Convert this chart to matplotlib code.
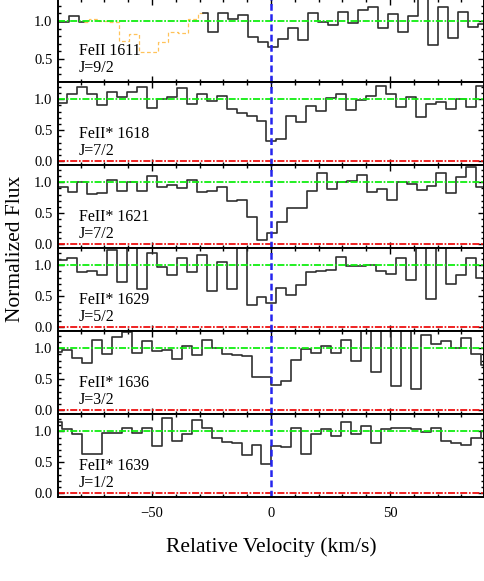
import numpy as np
import matplotlib
matplotlib.use("Agg")
import matplotlib.pyplot as plt
from matplotlib.ticker import MultipleLocator, FormatStrFormatter

plt.rcParams['font.family'] = ['Liberation Serif', 'DejaVu Serif']

# line labels
names = ["FeII 1611", "FeII* 1618", "FeII* 1621", "FeII* 1629", "FeII* 1636", "FeII* 1639"]
jlev = ["J=9/2", "J=7/2", "J=7/2", "J=5/2", "J=3/2", "J=1/2"]

# velocity of first pixel centre per transition (km/s), pixel width
v_start = [-87.1, -87.8, -87.6, -87.8, -89.9, -89.9]
dv = 4.19

flux_1611 = [0.98, 1.06, 0.99, 1.02, 1.00, 0.99, 0.74, 0.83, 0.59, 0.59, 0.72, 0.85,
             0.84, 1.02, 1.11, 0.85, 1.11, 1.03, 1.08, 0.79, 0.72, 0.66, 0.76, 0.91,
             0.75, 1.10, 0.98, 0.95, 1.12, 0.97, 1.14, 1.18, 0.91, 1.09, 0.85, 1.07,
             1.35, 0.68, 1.18, 0.77, 1.12, 0.92, 0.96]
flux_1618 = [0.94, 1.09, 1.20, 1.09, 0.90, 1.11, 1.04, 1.11, 1.19, 0.86, 1.01, 1.04,
             1.18, 0.92, 1.09, 0.97, 1.05, 0.85, 0.77, 0.73, 0.65, 0.33, 0.36, 0.73,
             0.64, 0.89, 0.81, 1.02, 1.09, 0.82, 0.98, 1.05, 1.22, 1.09, 0.87, 1.03,
             0.71, 0.92, 0.95, 0.84, 1.01, 0.87, 1.21]
flux_1621 = [0.92, 0.85, 1.00, 0.81, 0.83, 1.03, 0.86, 1.00, 0.86, 1.10, 0.93, 0.96,
             0.91, 1.03, 0.84, 0.86, 0.93, 0.69, 0.71, 0.44, 0.07, 0.18, 0.36, 0.58,
             0.58, 0.86, 1.15, 0.89, 1.00, 1.02, 1.11, 0.84, 0.89, 0.71, 1.00, 0.97,
             0.87, 0.94, 1.15, 0.83, 1.09, 1.24, 0.93]
flux_1629 = [1.09, 1.12, 0.89, 0.90, 0.85, 1.24, 0.73, 1.35, 0.62, 1.19, 0.98, 0.85,
             1.11, 0.89, 1.17, 0.59, 1.05, 0.61, 1.35, 0.36, 0.49, 0.39, 0.64, 0.52,
             0.68, 0.89, 0.90, 0.92, 1.14, 0.99, 0.99, 1.01, 0.90, 0.86, 1.12, 0.76,
             1.30, 0.46, 1.35, 0.70, 0.85, 1.11, 0.79]
flux_1636 = [0.94, 0.97, 0.85, 0.76, 1.13, 0.90, 1.18, 1.26, 0.92, 1.11, 0.96, 0.97,
             0.82, 1.03, 0.89, 1.13, 1.00, 0.91, 0.89, 0.88, 0.54, 0.54, 0.41, 0.47,
             0.81, 0.99, 0.93, 1.03, 0.92, 1.13, 0.79, 1.35, 0.62, 1.35, 0.39, 1.35,
             0.34, 1.21, 1.07, 1.12, 1.00, 1.16, 0.91, 0.73]
flux_1639 = [1.15, 1.04, 0.96, 0.63, 0.63, 0.97, 0.97, 1.06, 0.97, 1.06, 0.77, 1.22,
             0.85, 0.95, 1.18, 1.06, 0.89, 0.83, 0.81, 0.61, 0.78, 0.47, 0.76, 0.75,
             1.06, 0.63, 0.96, 1.04, 0.92, 1.15, 0.95, 1.08, 0.81, 1.03, 1.05, 1.06,
             1.04, 0.99, 1.05, 0.85, 0.81, 0.78, 0.90, 1.00]
fluxes = [flux_1611, flux_1618, flux_1621, flux_1629, flux_1636, flux_1639]

# pixels of FeII 1611 that are blended (drawn dashed orange)
blend = (2, 14)

ylims = [(0.2, 1.29)] + [(-0.06, 1.28)] * 5

fig = plt.figure(figsize=(4.85, 5.81), dpi=100)
gs = fig.add_gridspec(6, 1, left=0.1196, right=0.998, top=1.002, bottom=0.1446, hspace=0)
axes = [fig.add_subplot(gs[i]) for i in range(6)]

line_col = '#303030'
for i, ax in enumerate(axes):
    f = np.array(fluxes[i])
    v = v_start[i] + dv * np.arange(len(f))
    # pad ends so the first/last pixels are drawn at full width
    x = np.concatenate([[v[0] - dv / 2], v, [v[-1] + dv / 2]])
    y = np.concatenate([[f[0]], f, [f[-1]]])
    if i == 0:
        a, b = blend[0] + 1, blend[1] + 1
        ax.plot(x[:a + 1], y[:a + 1], drawstyle='steps-mid', color=line_col, lw=1.2)
        ax.plot(x[a:b + 1], y[a:b + 1], drawstyle='steps-mid', color='#ffc35a',
                lw=0.9, ls=(0, (3, 2)))
        ax.plot(x[b:], y[b:], drawstyle='steps-mid', color=line_col, lw=1.2)
    else:
        ax.plot(x, y, drawstyle='steps-mid', color=line_col, lw=1.2)

    ax.axhline(1.0, color='#10ee10', lw=1.3, ls=(0, (3.9, 0.95, 0.95, 0.95)))
    ax.axhline(0.0, color='#ee1010', lw=1.3, ls=(0, (3.9, 0.95, 0.95, 0.95)))
    ax.axvline(0.0, color='#2525ee', lw=1.8, ls=(0, (2.7, 1.4)))

    ax.set_xlim(-89.5, 89.5)
    ax.set_ylim(*ylims[i])
    ax.yaxis.set_major_locator(MultipleLocator(0.5))
    ax.yaxis.set_minor_locator(MultipleLocator(0.1))
    ax.yaxis.set_major_formatter(FormatStrFormatter('%.1f'))
    ax.xaxis.set_major_locator(MultipleLocator(50))
    ax.xaxis.set_minor_locator(MultipleLocator(10))
    ax.tick_params(which='both', direction='in', top=True, right=True,
                   labelsize=10.5, width=1.0, pad=4)
    ax.tick_params(which='major', length=4.5)
    ax.tick_params(which='minor', length=2.3)
    ax.tick_params(axis='x', pad=7)
    if i < 5:
        ax.tick_params(axis='x', labelbottom=False)
    for s in ax.spines.values():
        s.set_linewidth(1.4)

    ax.text(0.049, 0.37, names[i], transform=ax.transAxes, fontsize=11.5,
            va='center', ha='left')
    ax.text(0.049, 0.165, jlev[i], transform=ax.transAxes, fontsize=11.5,
            va='center', ha='left')

fig.text(271 / 485, 0.0585, "Relative Velocity (km/s)", ha='center', va='center',
         fontsize=15.5)
fig.text(0.031, 0.571, "Normalized Flux", ha='center', va='center', rotation=90,
         fontsize=15.5)

fig.savefig("out.png", dpi=100)
